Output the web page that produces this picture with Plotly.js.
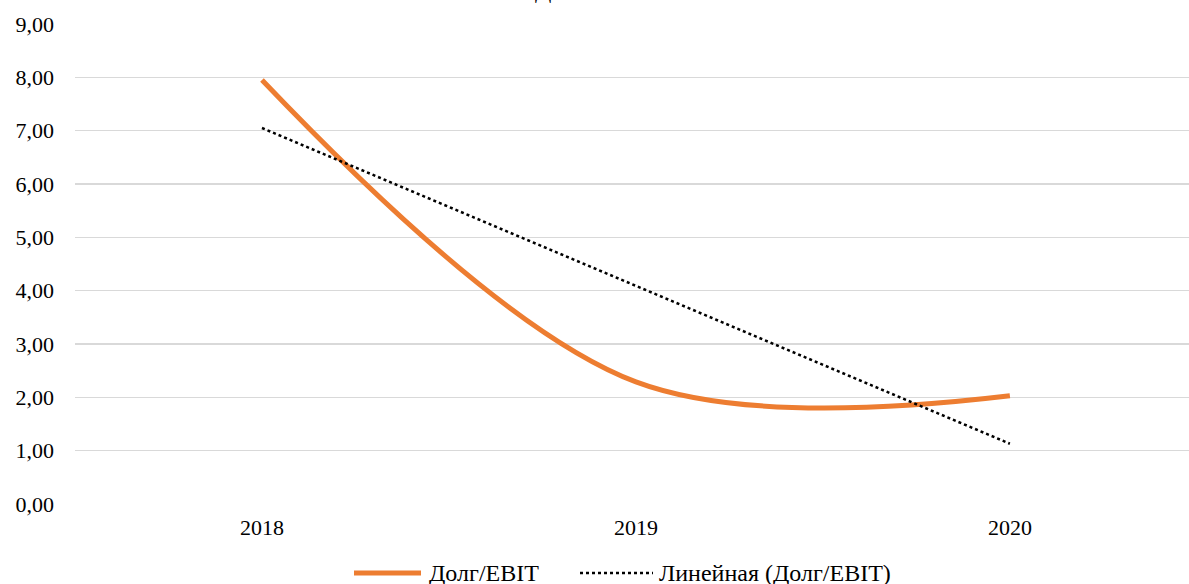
<!DOCTYPE html>
<html>
<head>
<meta charset="utf-8">
<script src="https://cdn.plot.ly/plotly-3.0.1.min.js"></script>
<style>html,body{margin:0;padding:0;background:#fff;}#chart{width:1189px;height:584px;}</style>
</head>
<body>
<div id="chart"></div>
<script>
const years = ['2018', '2019', '2020'];
const debtEbit = [7.95, 2.29, 2.03];
const yTickVals = [0, 1, 2, 3, 4, 5, 6, 7, 8, 9];
const yTickText = ['0,00', '1,00', '2,00', '3,00', '4,00', '5,00', '6,00', '7,00', '8,00', '9,00'];
const chartTitle = 'Долг/EBIT';
const seriesName = 'Долг/EBIT';
const trendName = 'Линейная (Долг/EBIT)';

// linear trend (least squares) computed from the series
const n = debtEbit.length;
const xs = debtEbit.map((_, i) => i + 1);
const mx = xs.reduce((a, b) => a + b, 0) / n;
const my = debtEbit.reduce((a, b) => a + b, 0) / n;
let sxy = 0, sxx = 0;
for (let i = 0; i < n; i++) { sxy += (xs[i] - mx) * (debtEbit[i] - my); sxx += (xs[i] - mx) ** 2; }
const slope = sxy / sxx;
const trend = xs.map(x => my + slope * (x - mx));

const FAM = 'Liberation Serif';
const f = (s) => ({family: FAM, size: s, color: '#000'});

const ORANGE = '#ED7D31';
const data = [
  {x: years, y: debtEbit, name: seriesName, type: 'scatter', mode: 'lines',
   line: {color: ORANGE, width: 5, shape: 'spline', smoothing: 1}},
  {x: years, y: trend, name: trendName, type: 'scatter', mode: 'lines',
   line: {color: '#000', width: 2.5, dash: 'dot'}}
];

// plot area geometry for the custom legend / title (paper coordinates)
const L = 75, T = 24, B = 80, W = 1189, H = 584;
const pw = W - L, ph = H - T - B;
const px = (x) => (x - L) / pw;
const py = (y) => (H - B - y) / ph;
const legY = 573;

const layout = {
  width: W, height: H,
  margin: {l: L, r: 0, t: T, b: B},
  paper_bgcolor: '#fff', plot_bgcolor: '#fff',
  xaxis: {type: 'category', range: [-0.5, 2.479], showgrid: false, zeroline: false,
          showline: false, ticks: '', tickfont: f(22), ticklabelstandoff: 8},
  yaxis: {range: [0, 9], tickvals: yTickVals, ticktext: yTickText, showgrid: true,
          gridcolor: '#d9d9d9', gridwidth: 1.3, zeroline: false, showline: false,
          tickfont: f(22), ticklabelstandoff: 20},
  showlegend: false,
  shapes: [
    {type: 'line', xref: 'paper', yref: 'paper', x0: px(354), x1: px(421), y0: py(legY), y1: py(legY),
     line: {color: ORANGE, width: 5}},
    {type: 'line', xref: 'paper', yref: 'paper', x0: px(580), x1: px(653), y0: py(legY), y1: py(legY),
     line: {color: '#000', width: 2.5, dash: 'dot'}}
  ],
  annotations: [
    {xref: 'paper', yref: 'paper', x: px(590), y: py(-10), xanchor: 'center', yanchor: 'middle',
     text: chartTitle, showarrow: false, font: f(24)},
    {xref: 'paper', yref: 'paper', x: px(427), y: py(legY), xanchor: 'left', yanchor: 'middle',
     text: seriesName, showarrow: false, font: f(24)},
    {xref: 'paper', yref: 'paper', x: px(657), y: py(legY), xanchor: 'left', yanchor: 'middle',
     text: trendName, showarrow: false, font: f(24)}
  ]
};

Plotly.newPlot('chart', data, layout, {displayModeBar: false, staticPlot: true});
</script>
</body>
</html>
